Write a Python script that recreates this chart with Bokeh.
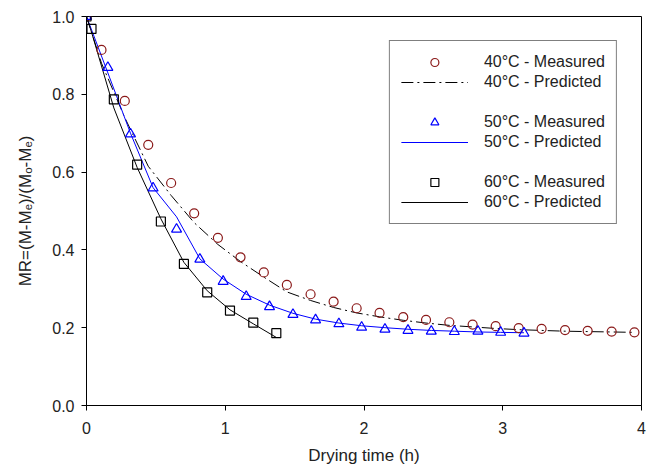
from bokeh.plotting import figure
from bokeh.models import Legend, LegendItem, FixedTicker
from bokeh.embed import file_html
from bokeh.resources import INLINE

# ---- data ----
t40 = [0, 0.108, 0.276, 0.445, 0.61, 0.776, 0.947, 1.11, 1.278, 1.444, 1.615, 1.781, 1.947,
       2.112, 2.283, 2.447, 2.615, 2.783, 2.949, 3.115, 3.28, 3.449, 3.612, 3.785, 3.949]
mr40_meas = [1.0, 0.914, 0.783, 0.670, 0.572, 0.494, 0.431, 0.381, 0.342, 0.310, 0.286, 0.267, 0.250,
             0.238, 0.227, 0.220, 0.214, 0.208, 0.204, 0.199, 0.197, 0.194, 0.192, 0.190, 0.188]
mr40_pred = [1.0, 0.880, 0.740, 0.615, 0.540, 0.470, 0.414, 0.370, 0.330, 0.292, 0.270, 0.252, 0.238,
             0.228, 0.219, 0.212, 0.206, 0.202, 0.198, 0.195, 0.193, 0.191, 0.190, 0.189, 0.188]

t50 = [0, 0.154, 0.317, 0.48, 0.649, 0.817, 0.985, 1.151, 1.319, 1.488, 1.651, 1.819, 1.983,
       2.151, 2.317, 2.485, 2.651, 2.821, 2.985, 3.153]
mr50_meas = [1.0, 0.869, 0.698, 0.559, 0.453, 0.376, 0.319, 0.280, 0.254, 0.234, 0.220, 0.210, 0.201,
             0.196, 0.193, 0.191, 0.190, 0.191, 0.188, 0.186]
mr50_pred = [1.0, 0.855, 0.700, 0.560, 0.485, 0.377, 0.325, 0.286, 0.258, 0.237, 0.222, 0.212, 0.205,
             0.200, 0.196, 0.193, 0.191, 0.189, 0.188, 0.187]

t60 = [0, 0.036, 0.197, 0.365, 0.536, 0.702, 0.870, 1.034, 1.202, 1.368]
mr60_meas = [1.0, 0.968, 0.787, 0.619, 0.473, 0.364, 0.291, 0.244, 0.213, 0.186]
mr60_pred = [1.0, 0.960, 0.765, 0.612, 0.480, 0.368, 0.295, 0.246, 0.210, 0.175]

x_ticks = [0, 1, 2, 3, 4]
y_ticks = [0.0, 0.2, 0.4, 0.6, 0.8, 1.0]

labels = ["40°C - Measured", "40°C - Predicted",
          "50°C - Measured", "50°C - Predicted",
          "60°C - Measured", "60°C - Predicted"]

FONT = "Liberation Sans"

p = figure(width=649, height=469, x_range=(0, 4), y_range=(0, 1.0),
           output_backend="svg", toolbar_location=None,
           min_border_left=86, min_border_right=8, min_border_top=16, min_border_bottom=64)
p.grid.visible = False
p.outline_line_color = "black"
p.outline_line_width = 1
p.background_fill_color = "white"
p.border_fill_color = "white"

p.xaxis.axis_label = "Drying time (h)"
p.yaxis.axis_label = "MR=(M-Mₑ)/(Mₒ-Mₑ)"
p.xaxis.ticker = FixedTicker(ticks=x_ticks)
p.yaxis.ticker = FixedTicker(ticks=y_ticks)
p.xaxis.major_label_overrides = {0: "0", 1: "1", 2: "2", 3: "3", 4: "4"}
p.yaxis.major_label_overrides = {0.0: "0.0", 0.2: "0.2", 0.4: "0.4", 0.6: "0.6", 0.8: "0.8", 1.0: "1.0"}
for ax in (p.xaxis, p.yaxis):
    ax.axis_line_color = "black"
    ax.major_tick_line_color = "black"
    ax.major_tick_out = 5
    ax.major_tick_in = 0
    ax.minor_tick_line_color = None
    ax.major_label_text_font = FONT
    ax.major_label_text_font_size = "16px"
    ax.major_label_text_color = "#222222"
    ax.axis_label_text_font = FONT
    ax.axis_label_text_font_size = "17px"
    ax.axis_label_text_font_style = "normal"
    ax.axis_label_text_color = "#222222"
p.xaxis.major_label_standoff = 11
p.xaxis.axis_label_standoff = 9
p.yaxis.major_label_standoff = 7
p.yaxis.axis_label_standoff = 14

r40p = p.line(t40, mr40_pred, line_color="black", line_width=1, line_dash="12 4 2 4")
r50p = p.line(t50, mr50_pred, line_color="#0000FF", line_width=1)
r60p = p.line(t60, mr60_pred, line_color="black", line_width=1)

r40m = p.scatter(t40, mr40_meas, marker="circle", size=9, fill_color=None,
                 line_color="#8B1A1A", line_width=1.2)
r50m = p.scatter(t50, mr50_meas, marker="triangle", size=10, fill_color=None,
                 line_color="#0000FF", line_width=1.2)
r60m = p.scatter(t60, mr60_meas, marker="square", size=9, fill_color=None,
                 line_color="black", line_width=1.2)

spacer1 = p.line(x=[], y=[], line_alpha=0)
spacer2 = p.line(x=[], y=[], line_alpha=0)

items = [
    LegendItem(label=labels[0], renderers=[r40m]),
    LegendItem(label=labels[1], renderers=[r40p]),
    LegendItem(label=" ", renderers=[spacer1]),
    LegendItem(label=labels[2], renderers=[r50m]),
    LegendItem(label=labels[3], renderers=[r50p]),
    LegendItem(label=" ", renderers=[spacer2]),
    LegendItem(label=labels[4], renderers=[r60m]),
    LegendItem(label=labels[5], renderers=[r60p]),
]
legend = Legend(items=items, location="top_right", margin=24, padding=11,
                spacing=0, glyph_height=20, label_height=20, glyph_width=67,
                label_standoff=16, label_text_font=FONT, label_text_font_size="16px",
                label_text_color="#222222",
                border_line_color="black", border_line_width=1,
                background_fill_color="white", background_fill_alpha=1)
p.add_layout(legend, "center")

open("out.html", "w").write(file_html(p, INLINE))
